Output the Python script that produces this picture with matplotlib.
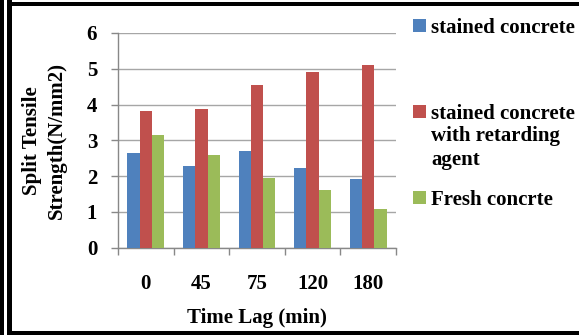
import numpy as np
import matplotlib
matplotlib.use("Agg")
import matplotlib.pyplot as plt
from matplotlib.patches import Rectangle

# values
time_lags = ["0", "45", "75", "120", "180"]
stained = [2.66, 2.27, 2.69, 2.23, 1.91]
stained_retarder = [3.82, 3.88, 4.55, 4.90, 5.11]
fresh = [3.15, 2.59, 1.96, 1.61, 1.08]

series_colors = ["#4F81BD", "#C0504D", "#9BBB59"]

plt.rcParams["font.family"] = ["Liberation Serif", "DejaVu Serif"]
plt.rcParams["font.weight"] = "bold"

W, H = 579, 335
fig = plt.figure(figsize=(W / 100, H / 100), dpi=100)
ax = fig.add_axes([118 / W, 1 - 247.7 / H, 278 / W, 214.7 / H])

x = np.arange(len(time_lags))
bw = 0.22
b1 = ax.bar(x - bw, stained, bw, color=series_colors[0], zorder=3)
b2 = ax.bar(x, stained_retarder, bw, color=series_colors[1], zorder=3)
b3 = ax.bar(x + bw, fresh, bw, color=series_colors[2], zorder=3)

ax.set_xlim(-0.5, len(time_lags) - 0.5)
ax.set_ylim(0, 6)
ax.set_yticks(range(7))
ax.set_xticks(x)
ax.set_xticklabels(time_lags)
ax.set_xticks(np.arange(-0.5, len(time_lags)), minor=True)
ax.tick_params(axis="x", which="major", length=0, pad=19, labelsize=15)
ax.tick_params(axis="x", which="minor", length=5, color="#888888", width=1)
ax.tick_params(axis="y", length=5, color="#888888", width=1, pad=10, labelsize=15)

ax.grid(axis="y", color="#a6a6a6", linewidth=1, zorder=0)
for s in ["top", "right"]:
    ax.spines[s].set_visible(False)
for s in ["left", "bottom"]:
    ax.spines[s].set_color("#888888")
    ax.spines[s].set_linewidth(1)

ax.set_xlabel("Time Lag (min)", fontsize=15, fontweight="bold", labelpad=10)
ax.set_ylabel("Split Tensile\nStrength(N/mm2)", fontsize=15, fontweight="bold",
              linespacing=1.35, labelpad=14)

# legend, laid out like the Excel original
def legend_entry(handle, label, ypix):
    fig.legend([handle], [label], loc="center left",
               bbox_to_anchor=(413 / W, 1 - ypix / H), frameon=False,
               handlelength=0.6, handleheight=0.6, handletextpad=0.25,
               borderpad=0, borderaxespad=0,
               prop={"size": 15, "weight": "bold"})

legend_entry(b1, "stained concrete", 28)
legend_entry(b2, "stained concrete", 114)
fig.text(431 / W, 1 - 126 / H, "with retarding\nagent", fontsize=15,
         fontweight="bold", va="top", ha="left", linespacing=1.25)
legend_entry(b3, "Fresh concrte", 200)

# page frame around the figure
def rect(x0, y0, x1, y1):
    fig.add_artist(Rectangle((x0 / W, 1 - y1 / H), (x1 - x0) / W, (y1 - y0) / H,
                             transform=fig.transFigure, color="black", lw=0))

rect(0, 0, 4, H)
rect(7, 0, 11.5, H)
rect(7, 2.5, W, 6)
rect(7, 331, W, H)

fig.savefig("out.png", dpi=100)
